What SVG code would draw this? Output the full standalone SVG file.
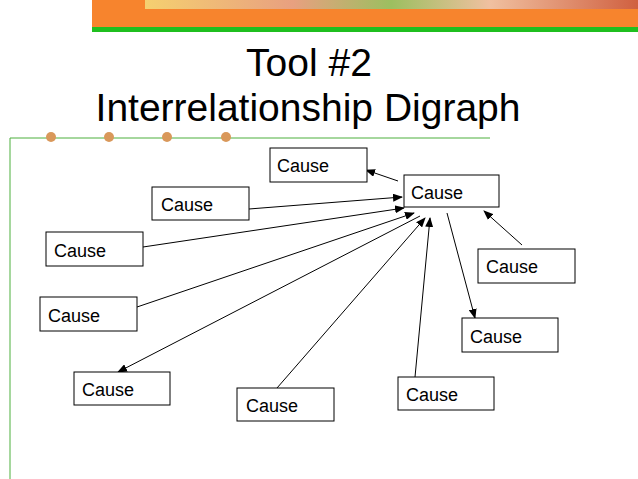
<svg xmlns="http://www.w3.org/2000/svg" width="638" height="479" viewBox="0 0 638 479">
<defs>
<marker id="ah" markerWidth="10" markerHeight="8" refX="9" refY="4" orient="auto" markerUnits="userSpaceOnUse"><path d="M0,0 L10,4 L0,8 z" fill="#000"/></marker>
<linearGradient id="fl" x1="0" x2="1"><stop offset="0" stop-color="#f5d070"/><stop offset="0.3" stop-color="#e8a080"/><stop offset="0.5" stop-color="#9cbf60"/><stop offset="0.7" stop-color="#f0c0a0"/><stop offset="1" stop-color="#d06040"/></linearGradient>
</defs>
<style>
.b{fill:#fff;stroke:#000;stroke-width:1}
.t{font-family:"Liberation Sans",Arial,sans-serif;font-size:18px;fill:#000}
.c line{stroke:#000;stroke-width:1;marker-end:url(#ah)}
</style>
<rect width="638" height="479" fill="#fff"/>
<rect x="92" y="0" width="546" height="27" fill="#f7842d"/>
<rect x="145" y="0" width="493" height="9" fill="url(#fl)"/>
<rect x="92" y="27" width="546" height="5" fill="#1fbf1f"/>
<text x="309" y="76" text-anchor="middle" font-family="Liberation Sans,Arial,sans-serif" font-size="39">Tool #2</text>
<text x="308" y="121" text-anchor="middle" font-family="Liberation Sans,Arial,sans-serif" font-size="39">Interrelationship Digraph</text>
<path d="M490,138 H10 V479" fill="none" stroke="#4caf3c" stroke-width="1"/>
<g fill="#d9985a"><circle cx="51" cy="137" r="5"/><circle cx="109" cy="137" r="5"/><circle cx="167" cy="137" r="5"/><circle cx="226" cy="137" r="5"/></g>
<g class="c">
<line x1="398" y1="181" x2="366" y2="170"/>
<line x1="249" y1="209" x2="402" y2="197"/>
<line x1="143" y1="247" x2="404" y2="208"/>
<line x1="137" y1="307" x2="414" y2="213"/>
<line x1="420" y1="216" x2="118" y2="372"/>
<line x1="277" y1="388" x2="425" y2="218"/>
<line x1="415" y1="377" x2="430" y2="218"/>
<line x1="447" y1="213" x2="475" y2="318"/>
<line x1="522" y1="245" x2="484" y2="211"/>
</g>
<g id="n0"><rect class="b" x="404" y="175" width="95" height="32"/><text class="t" x="411" y="199">Cause</text></g>
<g id="n1"><rect class="b" x="270" y="148" width="97" height="34"/><text class="t" x="277" y="172">Cause</text></g>
<g id="n2"><rect class="b" x="152" y="187" width="97" height="33"/><text class="t" x="161" y="211">Cause</text></g>
<g id="n3"><rect class="b" x="46" y="232" width="97" height="34"/><text class="t" x="54" y="257">Cause</text></g>
<g id="n4"><rect class="b" x="40" y="297" width="97" height="34"/><text class="t" x="48" y="322">Cause</text></g>
<g id="n5"><rect class="b" x="74" y="372" width="96" height="33"/><text class="t" x="82" y="396">Cause</text></g>
<g id="n6"><rect class="b" x="237" y="388" width="97" height="33"/><text class="t" x="246" y="412">Cause</text></g>
<g id="n7"><rect class="b" x="398" y="377" width="96" height="33"/><text class="t" x="406" y="401">Cause</text></g>
<g id="n8"><rect class="b" x="462" y="318" width="96" height="34"/><text class="t" x="470" y="343">Cause</text></g>
<g id="n9"><rect class="b" x="478" y="249" width="97" height="34"/><text class="t" x="486" y="273">Cause</text></g>
</svg>
